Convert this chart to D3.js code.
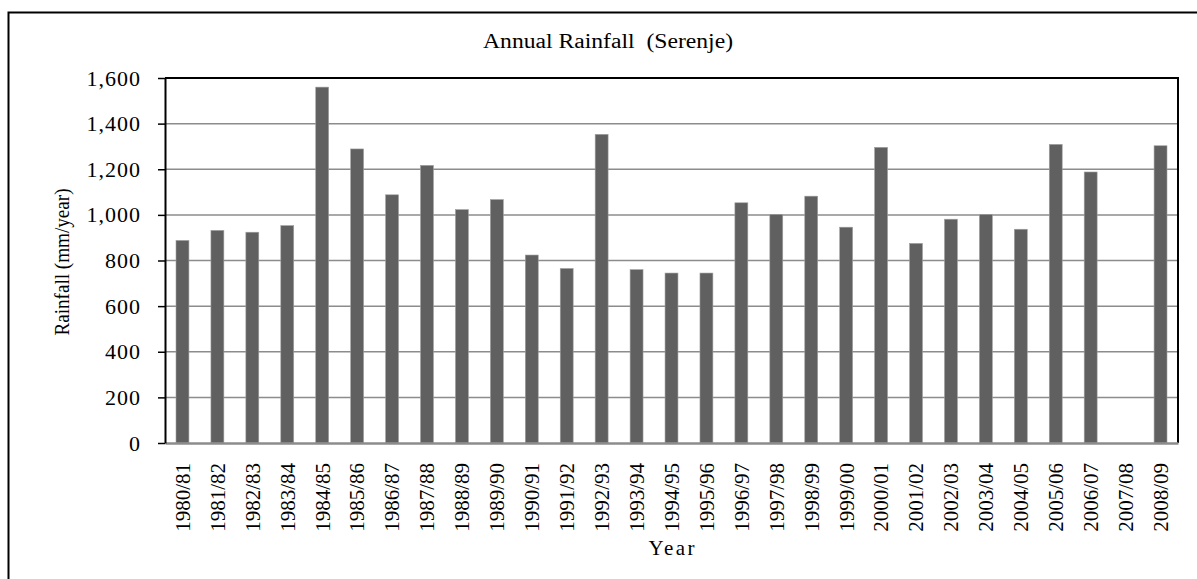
<!DOCTYPE html>
<html>
<head>
<meta charset="utf-8">
<script src="https://cdn.jsdelivr.net/npm/d3@7"></script>
<style>
  body { margin: 0; background: #fff; }
  text { font-family: "Liberation Serif", "Times New Roman", serif; fill: #000; }
</style>
</head>
<body>
<script>
// data
var years = ["1980/81", "1981/82", "1982/83", "1983/84", "1984/85", "1985/86", "1986/87",
             "1987/88", "1988/89", "1989/90", "1990/91", "1991/92", "1992/93", "1993/94",
             "1994/95", "1995/96", "1996/97", "1997/98", "1998/99", "1999/00", "2000/01",
             "2001/02", "2002/03", "2003/04", "2004/05", "2005/06", "2006/07", "2007/08", "2008/09"];
var rainfall = [888, 932, 924, 953, 1560, 1289, 1088, 1217, 1023, 1067, 824, 765, 1353, 760,
                745, 745, 1053, 1002, 1082, 946, 1296, 875, 981, 1002, 937, 1309, 1188, null, 1303];
var yTicks = [0, 200, 400, 600, 800, 1000, 1200, 1400, 1600];

// set the dimensions and margins of the graph
var W = 1197, H = 579;
var margin = {top: 78, right: 19, bottom: 136, left: 165},
    width = 1178 - margin.left,
    height = 443 - margin.top;

var svg = d3.select("body").append("svg")
    .attr("width", W)
    .attr("height", H);

// outer chart border (runs off the right and bottom edge)
svg.append("rect")
    .attr("x", 8.5).attr("y", 12.5)
    .attr("width", W + 20).attr("height", H + 20)
    .attr("fill", "none")
    .attr("stroke", "#000")
    .attr("stroke-width", 2);

var g = svg.append("g")
    .attr("transform", "translate(" + margin.left + "," + margin.top + ")");

// scales
var x = d3.scaleBand().domain(years).range([0, width]).paddingInner(0.63).paddingOuter(0.315);
var y = d3.scaleLinear().domain([0, 1600]).range([height, 0]);

// gridlines
g.selectAll("line.grid")
    .data(yTicks.slice(1, -1))
    .enter().append("line")
    .attr("class", "grid")
    .attr("x1", 0).attr("x2", width)
    .attr("y1", function (d) { return y(d); })
    .attr("y2", function (d) { return y(d); })
    .attr("stroke", "#8c8c8c")
    .attr("stroke-width", 1.5);

// bars
g.selectAll("rect.bar")
    .data(years.map(function (d, i) { return {year: d, value: rainfall[i]}; })
               .filter(function (d) { return d.value != null; }))
    .enter().append("rect")
    .attr("class", "bar")
    .attr("x", function (d) { return x(d.year); })
    .attr("y", function (d) { return y(d.value); })
    .attr("width", x.bandwidth())
    .attr("height", function (d) { return height - y(d.value); })
    .attr("fill", "#606060")
    .attr("stroke", "#a0a0a0")
    .attr("stroke-width", 0.6);

// top and right frame
g.append("path")
    .attr("d", "M0," + y(1600) + "H" + width + "V" + height)
    .attr("fill", "none")
    .attr("stroke", "#000")
    .attr("stroke-width", 2);

// x axis
var xAxis = g.append("g")
    .attr("transform", "translate(0," + height + ")")
    .call(d3.axisBottom(x).tickSize(0).tickPadding(0));
xAxis.select(".domain").attr("stroke", "#8c8c8c").attr("stroke-width", 2.5);
xAxis.selectAll("text")
    .attr("transform", "rotate(-90)")
    .attr("text-anchor", "end")
    .attr("x", -20)
    .attr("y", 0)
    .attr("dy", "0.35em")
    .style("font-size", "21px")
    .style("font-family", "Liberation Serif");

// y axis
var yAxis = g.append("g")
    .call(d3.axisLeft(y).tickValues(yTicks).tickSize(7).tickSizeOuter(0).tickPadding(17)
        .tickFormat(d3.format(",")));
yAxis.select(".domain").attr("stroke", "#000").attr("stroke-width", 2);
yAxis.selectAll(".tick line").attr("stroke", "#000").attr("stroke-width", 1.5);
yAxis.selectAll("text")
    .style("font-size", "22px")
    .style("letter-spacing", "1px")
    .style("font-family", "Liberation Serif");

// title and axis labels
svg.append("text")
    .attr("x", 608).attr("y", 48)
    .attr("text-anchor", "middle")
    .attr("textLength", 250)
    .attr("lengthAdjust", "spacingAndGlyphs")
    .style("font-size", "20px")
    .style("white-space", "pre")
    .text("Annual Rainfall  (Serenje)");

svg.append("text")
    .attr("x", margin.left + width / 2).attr("y", 555)
    .attr("text-anchor", "middle")
    .attr("textLength", 46)
    .attr("lengthAdjust", "spacing")
    .style("font-size", "21px")
    .text("Year");

svg.append("text")
    .attr("transform", "rotate(-90)")
    .attr("x", -262).attr("y", 69)
    .attr("text-anchor", "middle")
    .attr("textLength", 147)
    .attr("lengthAdjust", "spacingAndGlyphs")
    .style("font-size", "20px")
    .text("Rainfall (mm/year)");
</script>
</body>
</html>
